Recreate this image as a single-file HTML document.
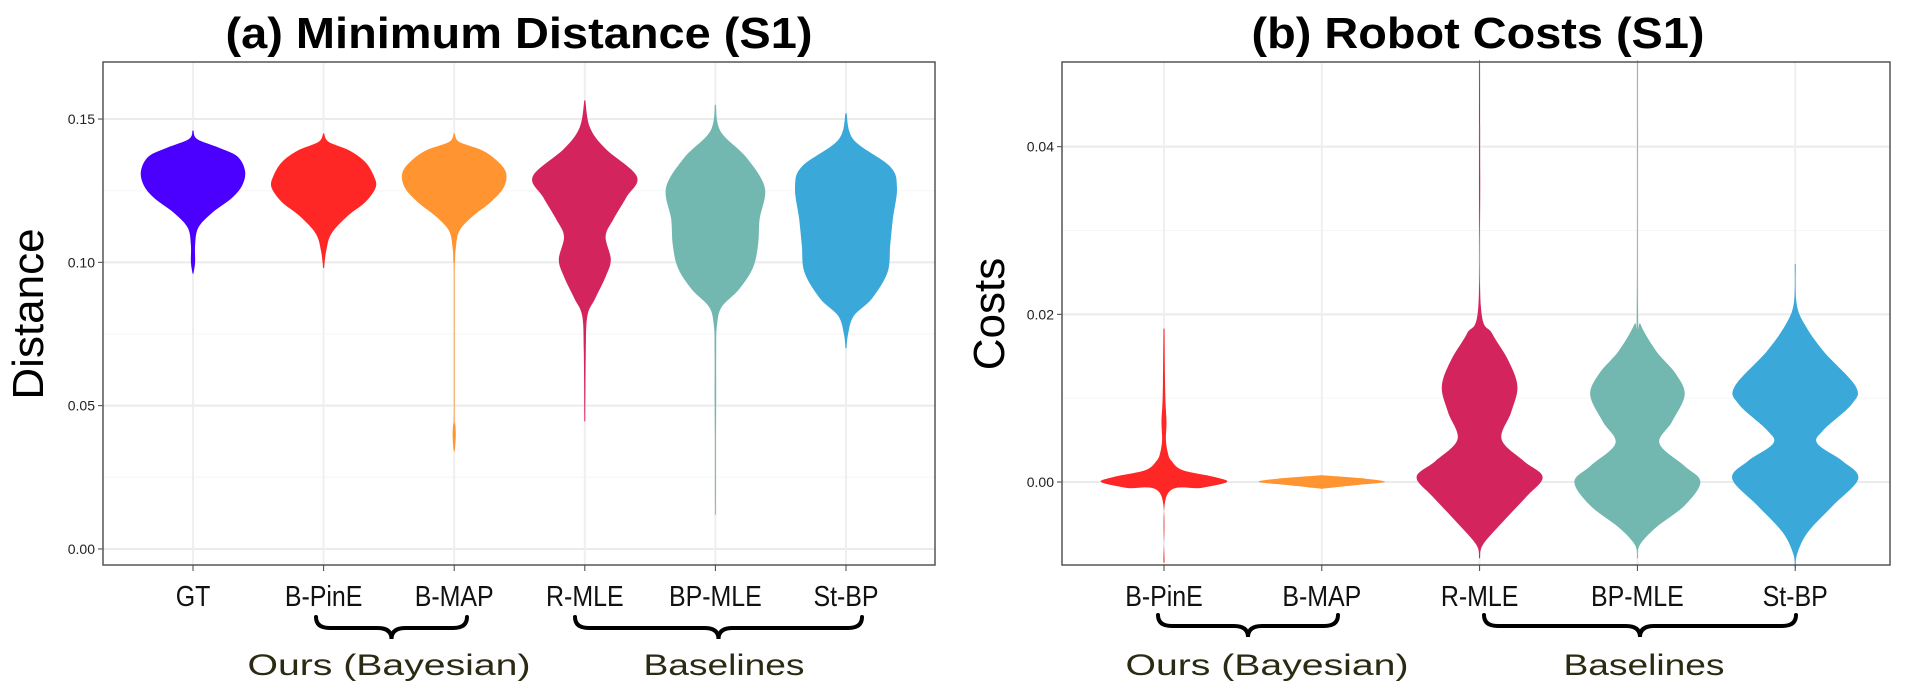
<!DOCTYPE html>
<html><head><meta charset="utf-8"><style>
html,body{margin:0;padding:0;background:#fff;}
svg{display:block;font-family:"Liberation Sans",sans-serif;}
</style></head><body>
<svg id="fig" width="1908" height="689" viewBox="0 0 1908 689"></svg>
<script>
// ---- Panel (a) data ----
const catsA = ["GT","B-PinE","B-MAP","R-MLE","BP-MLE","St-BP"];
const colorsA = ["#4b00ff","#ff2626","#ff9430","#d4245e","#72b8b0","#3aa9d9"];
const ticksA = [0,0.05,0.10,0.15];
const tickLabelsA = ["0.00","0.05","0.10","0.15"];
const yA_GT = [0.146,0.143,0.140,0.137,0.132,0.127,0.1225,0.117,0.112,0.106,0.100,0.096];
const wA_GT = [0,0.08,0.5,0.85,1,0.95,0.75,0.35,0.1,0.04,0.04,0];
const yA_PinE = [0.145,0.142,0.139,0.135,0.130,0.126,0.121,0.116,0.110,0.104,0.098];
const wA_PinE = [0,0.1,0.5,0.8,0.97,1,0.8,0.45,0.15,0.05,0];
const yA_MAP = [0.145,0.142,0.139,0.135,0.131,0.126,0.121,0.116,0.111,0.105,0.100,0.095,0.048,0.044,0.040,0.036,0.034];
const wA_MAP = [0,0.1,0.55,0.85,1,0.95,0.7,0.35,0.1,0.03,0.015,0.002,0.002,0.02,0.03,0.02,0];
const yA_RMLE = [0.1565,0.147,0.1396,0.130,0.1227,0.115,0.109,0.101,0.095,0.0874,0.0813,0.069,0.0475,0.0445];
const wA_RMLE = [0,0.1,0.4,1,0.8,0.55,0.4,0.5,0.4,0.2,0.05,0.02,0.01,0];
const yA_BPMLE = [0.155,0.1457,0.1365,0.126,0.115,0.106,0.098,0.0905,0.0844,0.078,0.069,0.0537,0.038,0.018,0.012];
const wA_BPMLE = [0,0.1,0.6,0.95,0.85,0.82,0.72,0.45,0.12,0.03,0.015,0.015,0.01,0.005,0];
const yA_StBP = [0.152,0.1427,0.1334,0.126,0.115,0.106,0.0966,0.0874,0.0813,0.075,0.070];
const wA_StBP = [0,0.15,0.85,0.98,0.9,0.85,0.8,0.5,0.15,0.04,0];
const profA = [[yA_GT,wA_GT],[yA_PinE,wA_PinE],[yA_MAP,wA_MAP],[yA_RMLE,wA_RMLE],[yA_BPMLE,wA_BPMLE],[yA_StBP,wA_StBP]];

// ---- Panel (b) data ----
const catsB = ["B-PinE","B-MAP","R-MLE","BP-MLE","St-BP"];
const colorsB = ["#ff2626","#ff9430","#d4245e","#72b8b0","#3aa9d9"];
const ticksB = [0,0.02,0.04];
const tickLabelsB = ["0.00","0.02","0.04"];
const yB_PinE = [0.0183,0.0104,0.0072,0.0051,0.0035,0.0025,0.0014,0.0006,0,-0.0007,-0.0015,-0.0096];
const wB_PinE = [0,0.02,0.04,0.03,0.06,0.12,0.3,0.8,1,0.6,0.05,0];
const yB_MAP = [0.0008,0.0004,0,-0.0004,-0.0008];
const wB_MAP = [0,0.7,1,0.5,0];
const yB_RMLE = [0.0503,0.0367,0.0209,0.0177,0.0146,0.0114,0.0083,0.0051,0.0025,0.0006,-0.0017,-0.0049,-0.0075,-0.0091];
const wB_RMLE = [0.005,0.01,0.02,0.2,0.45,0.6,0.5,0.35,0.7,1,0.75,0.35,0.05,0];
const yB_BPMLE = [0.0503,0.0209,0.0188,0.0156,0.013,0.0104,0.0072,0.0046,0.0019,0,-0.0028,-0.0054,-0.0075,-0.0091];
const wB_BPMLE = [0.005,0.01,0.05,0.3,0.6,0.75,0.55,0.35,0.75,1,0.75,0.3,0.04,0];
const yB_StBP = [0.026,0.0214,0.0188,0.0156,0.0114,0.0093,0.0062,0.0046,0.0025,0.0004,-0.0028,-0.006,-0.0086,-0.0102];
const wB_StBP = [0,0.02,0.15,0.45,0.96,0.9,0.45,0.35,0.75,1,0.6,0.2,0.03,0];
const profB = [[yB_PinE,wB_PinE],[yB_MAP,wB_MAP],[yB_RMLE,wB_RMLE],[yB_BPMLE,wB_BPMLE],[yB_StBP,wB_StBP]];

const NS="http://www.w3.org/2000/svg";
const svg=document.getElementById('fig');
function mk(tag,attrs,parent){const e=document.createElementNS(NS,tag);for(const k in attrs)e.setAttribute(k,attrs[k]);(parent||svg).appendChild(e);return e;}

function smooth(pts){
  // Catmull-Rom to cubic bezier, open path
  let d=`M${pts[0][0].toFixed(1)},${pts[0][1].toFixed(1)}`;
  for(let i=0;i<pts.length-1;i++){
    const p0=pts[Math.max(i-1,0)],p1=pts[i],p2=pts[i+1],p3=pts[Math.min(i+2,pts.length-1)];
    const c1=[p1[0]+(p2[0]-p0[0])/6,p1[1]+(p2[1]-p0[1])/6];
    const c2=[p2[0]-(p3[0]-p1[0])/6,p2[1]-(p3[1]-p1[1])/6];
    d+=` C${c1[0].toFixed(1)},${c1[1].toFixed(1)} ${c2[0].toFixed(1)},${c2[1].toFixed(1)} ${p2[0].toFixed(1)},${p2[1].toFixed(1)}`;
  }
  return d;
}

function panel(cfg){
  const g=mk('g',{});
  
  
  const {L,R,T,B,vmin,vmax,cats,colors,profs,ticks,labels,hw}=cfg;
  const y=v=>B-(v-vmin)/(vmax-vmin)*(B-T);
  const n=cats.length, x0=cfg.x0, dx=cfg.dx;
  const x=i=>x0+i*dx;
  ticks.forEach((t,i)=>{
    const l=mk('line',{x1:L,x2:R,y1:y(t),y2:y(t),stroke:'#ebebeb','stroke-width':2},g);
    
    
    if(i<ticks.length-1){const m=(t+ticks[i+1])/2;mk('line',{x1:L,x2:R,y1:y(m),y2:y(m),stroke:'#f6f6f6','stroke-width':1},g);}
    mk('line',{x1:L-5,x2:L,y1:y(t),y2:y(t),stroke:'#444','stroke-width':1},g);
    const tx=mk('text',{x:L-8,y:y(t)+5,'text-anchor':'end','font-size':14,fill:'#222'},g);
    tx.textContent=labels[i];
    
    
  });
  for(let i=0;i<n;i++){
    const l=mk('line',{x1:x(i),x2:x(i),y1:T,y2:B,stroke:'#efefef','stroke-width':2},g);
    
    
  }
  for(let i=0;i<n;i++){
    const [ys,ws]=profs[i];
    const right=[],left=[];
    for(let k=0;k<ys.length;k++){
      const w=Math.max(ws[k]*hw,0.45);
      right.push([x(i)+w,y(ys[k])]);
      left.unshift([x(i)-w,y(ys[k])]);
    }
    const d=smooth(right)+' L'+smooth(left).slice(1)+' Z';
    const p=mk('path',{d:d,fill:colors[i]},g);
    
    
  }
  const fr=mk('rect',{x:L,y:T,width:R-L,height:B-T,fill:'none',stroke:'#555','stroke-width':1.5},g);
  
  
  for(let i=0;i<n;i++){
    mk('line',{x1:x(i),x2:x(i),y1:B,y2:B+6,stroke:'#444','stroke-width':1},g);
    const t=mk('text',{transform:`translate(${x(i)},606) scale(0.86,1)`,'text-anchor':'middle','font-size':29,fill:'#111'},g);
    t.textContent=cats[i];
    
    
  }
  const tt=mk('text',{x:cfg.tx,y:48,'text-anchor':'middle','font-size':44,'font-weight':'bold',textLength:cfg.tw,lengthAdjust:'spacingAndGlyphs',fill:'#000'},g);
  tt.textContent=cfg.title;
  
  
  const yt=mk('text',{transform:`translate(${cfg.ytx},314) rotate(-90)`,'text-anchor':'middle','font-size':44,fill:'#000'},g);
  yt.textContent=cfg.ytitle;
  
  
  cfg.braces.forEach(b=>{
    const [x1,x2,y0,lab,lx,lw]=b; const m=(x1+x2)/2, h=11;
    const d=`M${x1},${y0} Q${x1},${y0+h} ${x1+14},${y0+h} L${m-14},${y0+h} Q${m},${y0+h} ${m},${y0+2*h} Q${m},${y0+h} ${m+14},${y0+h} L${x2-14},${y0+h} Q${x2},${y0+h} ${x2},${y0}`;
    const p=mk('path',{d:d,fill:'none',stroke:'#000','stroke-width':4,'stroke-linecap':'round'},g);
    
    
    const t=mk('text',{x:lx,y:675,'text-anchor':'middle','font-size':30,fill:'#2b2a12',textLength:lw,lengthAdjust:'spacingAndGlyphs'},g);
    t.textContent=lab;
    
    
  });
}
panel({name:'panel-a-minimum-distance',L:103,R:935,T:62,B:565,vmin:-0.0056,vmax:0.1699,cats:catsA,colors:colorsA,profs:profA,ticks:ticksA,labels:tickLabelsA,hw:52,x0:193,dx:130.6,title:'(a) Minimum Distance (S1)',tx:519,tw:587,ytitle:'Distance',ytx:43,
  braces:[[316,467,617,'Ours (Bayesian)',389,283],[575,862,617,'Baselines',724,161]]});
panel({name:'panel-b-robot-costs',L:1062,R:1890,T:62,B:565,vmin:-0.0099,vmax:0.0501,cats:catsB,colors:colorsB,profs:profB,ticks:ticksB,labels:tickLabelsB,hw:63,x0:1164,dx:157.8,title:'(b) Robot Costs (S1)',tx:1478,tw:453,ytitle:'Costs',ytx:1004,
  braces:[[1158,1338,615,'Ours (Bayesian)',1267,283],[1484,1796,615,'Baselines',1644,161]]});
</script>
</body></html>
